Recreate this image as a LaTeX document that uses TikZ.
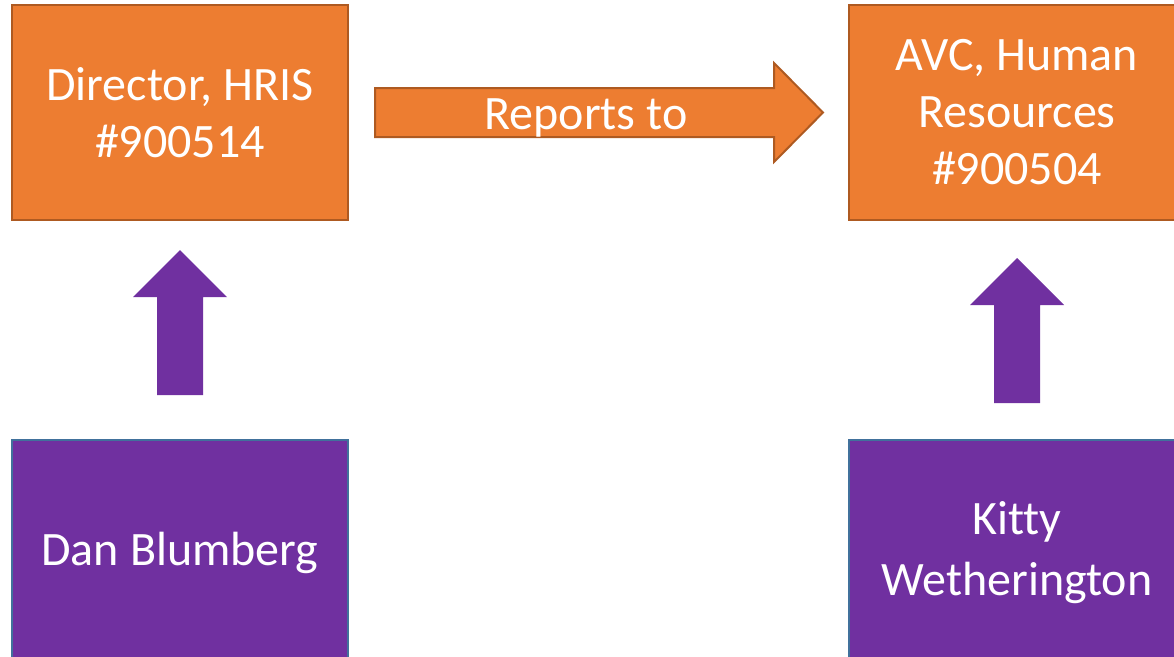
\documentclass[tikz,border=0pt]{standalone}
\usepackage{fontspec}
\setmainfont{Carlito}[Ligatures=NoCommon]
\definecolor{ofill}{HTML}{ED7D31}
\definecolor{oline}{HTML}{AE5A21}
\definecolor{pfill}{HTML}{7030A0}
\definecolor{pline}{HTML}{41719C}
\begin{document}
\begin{tikzpicture}[x=1pt,y=-1pt,
  txt/.style={text=white,align=center,font=\fontsize{48}{57}\selectfont},
  obox/.style={txt,draw=oline,fill=ofill,line width=2pt,minimum width=336pt,minimum height=215pt,inner sep=0pt},
  pbox/.style={txt,draw=pline,fill=pfill,line width=2pt,minimum width=336pt,minimum height=226pt,inner sep=0pt},
  oarrow/.style={draw=oline,fill=ofill,line width=2pt,line join=miter},
  parrow/.style={fill=pfill,draw=none}]
\useasboundingbox (0,0) rectangle (1174,656);
\clip (0,0) rectangle (1174,656);
\node[obox] (dir) at (180,112.5) {Director, HRIS\\\#900514};
\node[obox] (avc) at (1017,112.5) {AVC, Human\\Resources\\\#900504};
\node[pbox] (dan) at (180,553) {Dan Blumberg};
\node[pbox,font=\fontsize{48}{61}\selectfont] (kit) at (1017,553) {Kitty\\Wetherington};
\draw[oarrow] (375,88) -- (774,88) -- (774,63) -- (823,112.5) -- (774,162) -- (774,137) -- (375,137) -- cycle;
\node[txt,anchor=base] (rep) at (586,129) {Reports to};
\fill[parrow] (157,395) -- (157,297) -- (133,297) -- (180,250) -- (227,297) -- (203,297) -- (203,395) -- cycle;
\fill[parrow] (994,403) -- (994,305) -- (970,305) -- (1017,258) -- (1064,305) -- (1040,305) -- (1040,403) -- cycle;
\end{tikzpicture}
\end{document}
